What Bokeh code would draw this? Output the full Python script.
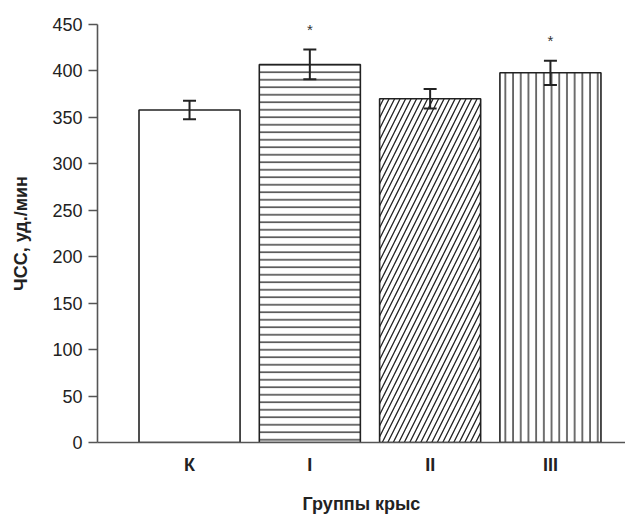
from bokeh.plotting import figure
from bokeh.models import ColumnDataSource, Whisker, FixedTicker, Range1d, TeeHead
from bokeh.core.properties import value
from bokeh.embed import file_html
from bokeh.resources import INLINE

groups = ["К", "I", "II", "III"]
hr_mean = [358, 407, 370, 398]
hr_err = [10, 16, 10.5, 13]
signif = ["", "*", "", "*"]
y_ticks = [0, 50, 100, 150, 200, 250, 300, 350, 400, 450]

hatches = [" ", "-", "/", "|"]
hatch_scales = [8, 7.5, 11, 7.7]

xs = list(range(len(groups)))
src = ColumnDataSource(dict(
    x=xs,
    top=hr_mean,
    upper=[m + e for m, e in zip(hr_mean, hr_err)],
    lower=[m - e for m, e in zip(hr_mean, hr_err)],
    hatch=hatches,
    hscale=hatch_scales,
))
star_src = ColumnDataSource(dict(
    x=[x for x, s in zip(xs, signif) if s],
    y=[m + e + 22 for m, e, s in zip(hr_mean, hr_err, signif) if s],
    t=[s for s in signif if s],
))

FONT = "Liberation Sans"
p = figure(width=625, height=516, output_backend="svg", toolbar_location=None,
           x_range=Range1d(-0.765, 3.624), y_range=Range1d(0, 450),
           min_border_left=97, min_border_top=24, min_border_right=0, min_border_bottom=74)
p.outline_line_color = None
p.xgrid.visible = False
p.ygrid.visible = False
p.background_fill_color = "white"

p.vbar(x="x", top="top", bottom=0, width=0.84, source=src,
       fill_color="white", line_color="#222222", line_width=1.6,
       hatch_pattern="hatch", hatch_scale="hscale", hatch_color="#222222",
       hatch_weight=1.3)

w = Whisker(base="x", upper="upper", lower="lower", source=src,
            line_color="#222222", line_width=2, level="annotation",
            upper_head=TeeHead(size=13, line_color="#222222", line_width=2),
            lower_head=TeeHead(size=13, line_color="#222222", line_width=2))
p.add_layout(w)

p.text(x="x", y="y", text="t", source=star_src, text_align="center",
       text_baseline="middle", text_font=value(FONT), text_font_size="15px",
       text_color="#333333")

# y axis
ya = p.yaxis[0]
ya.ticker = FixedTicker(ticks=y_ticks)
ya.axis_line_color = "#555555"
ya.axis_line_width = 1.6
ya.major_tick_line_color = "#555555"
ya.major_tick_line_width = 1.6
ya.major_tick_out = 9
ya.major_tick_in = 0
ya.minor_tick_line_color = None
ya.major_label_text_font = FONT
ya.major_label_text_font_size = "18px"
ya.major_label_text_color = "#222222"
ya.major_label_standoff = 6
ya.axis_label = "ЧСС, уд./мин"
ya.axis_label_text_font = FONT
ya.axis_label_text_font_style = "bold"
ya.axis_label_text_font_size = "18px"
ya.axis_label_text_color = "#222222"
ya.axis_label_standoff = 18

# x axis
xa = p.xaxis[0]
xa.ticker = FixedTicker(ticks=xs)
xa.major_label_overrides = {i: g for i, g in enumerate(groups)}
xa.axis_line_color = "#555555"
xa.axis_line_width = 1.6
xa.major_tick_line_color = None
xa.major_tick_out = 0
xa.major_tick_in = 0
xa.minor_tick_line_color = None
xa.major_label_text_font = FONT
xa.major_label_text_font_style = "bold"
xa.major_label_text_font_size = "18px"
xa.major_label_text_color = "#222222"
xa.major_label_standoff = 12
xa.axis_label = "Группы крыс"
xa.axis_label_text_font = FONT
xa.axis_label_text_font_style = "bold"
xa.axis_label_text_font_size = "18px"
xa.axis_label_text_color = "#222222"
xa.axis_label_standoff = 16

open("out.html", "w").write(file_html(p, INLINE))
